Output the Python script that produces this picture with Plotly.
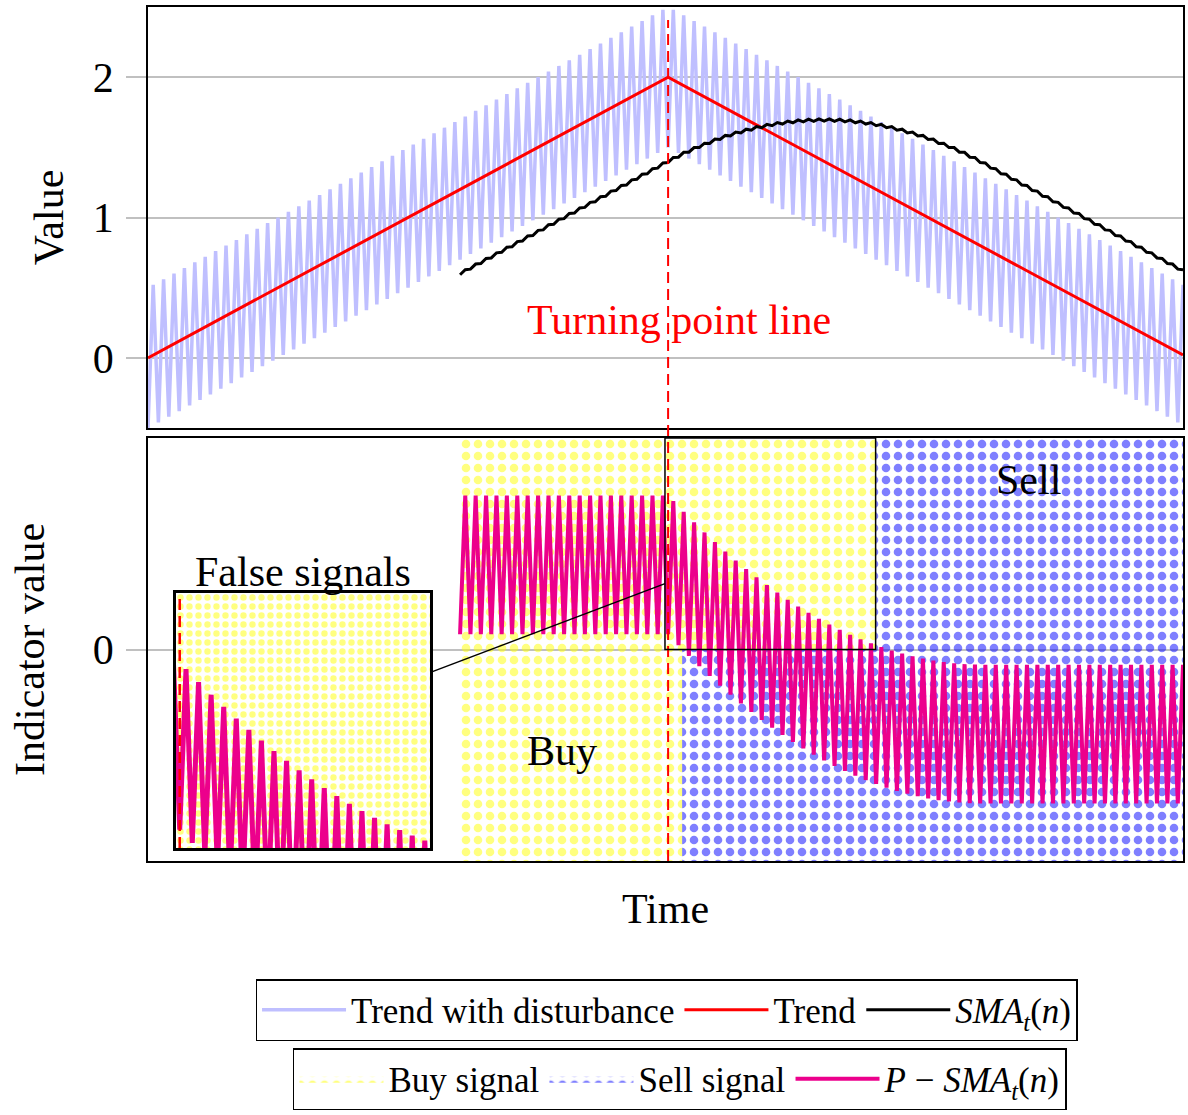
import plotly.graph_objects as go

# ---------------- data ----------------
time_index = list(range(200))

# trend with disturbance (alternating +-0.5 around the triangular trend)
price = [
    -0.50, 0.52, -0.46, 0.56, -0.42, 0.60, -0.38, 0.64, -0.34, 0.68,
    -0.30, 0.72, -0.26, 0.76, -0.22, 0.80, -0.18, 0.84, -0.14, 0.88,
    -0.10, 0.92, -0.06, 0.96, -0.02, 1.00, 0.02, 1.04, 0.06, 1.08,
    0.10, 1.12, 0.14, 1.16, 0.18, 1.20, 0.22, 1.24, 0.26, 1.28,
    0.30, 1.32, 0.34, 1.36, 0.38, 1.40, 0.42, 1.44, 0.46, 1.48,
    0.50, 1.52, 0.54, 1.56, 0.58, 1.60, 0.62, 1.64, 0.66, 1.68,
    0.70, 1.72, 0.74, 1.76, 0.78, 1.80, 0.82, 1.84, 0.86, 1.88,
    0.90, 1.92, 0.94, 1.96, 0.98, 2.00, 1.02, 2.04, 1.06, 2.08,
    1.10, 2.12, 1.14, 2.16, 1.18, 2.20, 1.22, 2.24, 1.26, 2.28,
    1.30, 2.32, 1.34, 2.36, 1.38, 2.40, 1.42, 2.44, 1.46, 2.48,
    1.50, 2.48, 1.46, 2.44, 1.42, 2.40, 1.38, 2.36, 1.34, 2.32,
    1.30, 2.28, 1.26, 2.24, 1.22, 2.20, 1.18, 2.16, 1.14, 2.12,
    1.10, 2.08, 1.06, 2.04, 1.02, 2.00, 0.98, 1.96, 0.94, 1.92,
    0.90, 1.88, 0.86, 1.84, 0.82, 1.80, 0.78, 1.76, 0.74, 1.72,
    0.70, 1.68, 0.66, 1.64, 0.62, 1.60, 0.58, 1.56, 0.54, 1.52,
    0.50, 1.48, 0.46, 1.44, 0.42, 1.40, 0.38, 1.36, 0.34, 1.32,
    0.30, 1.28, 0.26, 1.24, 0.22, 1.20, 0.18, 1.16, 0.14, 1.12,
    0.10, 1.08, 0.06, 1.04, 0.02, 1.00, -0.02, 0.96, -0.06, 0.92,
    -0.10, 0.88, -0.14, 0.84, -0.18, 0.80, -0.22, 0.76, -0.26, 0.72,
    -0.30, 0.68, -0.34, 0.64, -0.38, 0.60, -0.42, 0.56, -0.46, 0.52,
]

# trend (straight segments between these vertices)
trend_t = [0, 100, 199]
trend_v = [0.0, 2.0, 0.02]

sma_n = 61                 # moving average window
turning_point = 100        # time of the turning point

# signal regions (time bounds)
buy_start = 60
buy_full_end = 102.7       # buy region spans whole indicator range until here
buy_upper_end = 140        # buy region (positive half) until here
series_end = 199

# zoomed box ("False signals")
zoom_t = [99.4, 139.9]
zoom_v = [0.0, 1.5]

value_range = [-0.5, 2.5]
value_ticks = [0, 1, 2]
ind_range = [-1.5, 1.5]
ind_ticks = [0]

# derived series: SMA_t(n) and P - SMA_t(n)
sma_t, sma_v = [], []
for i in range(sma_n - 1, len(price)):
    sma_t.append(time_index[i])
    sma_v.append(sum(price[i - sma_n + 1:i + 1]) / sma_n)
ind_v = [price[t] - s for t, s in zip(sma_t, sma_v)]

# ---------------- styling ----------------
FONT = "Liberation Serif"
LAV = "#bfbfff"
RED = "#ff0000"
MAG = "#ec008c"
GRID = "#c0c0c0"
CLEAR = "rgba(0,0,0,0)"

W, H = 1188, 1115
ML, MR, MT, MB = 148, 3, 7, 254
PW, PH = W - ML - MR, H - MT - MB


def py(px):  # pixel row -> paper y
    return (H - MB - px) / PH


def pxx(px):  # pixel col -> paper x
    return (px - ML) / PW


top_dom = [py(428), 1.0]
bot_dom = [0.0, py(438)]
inset_x = [pxx(176), pxx(431)]
inset_y = [py(848), py(593)]

fig = go.Figure()

# top panel
fig.add_trace(go.Scatter(x=time_index, y=price, mode="lines", name="Trend with disturbance",
                         line=dict(color=LAV, width=3.5), xaxis="x", yaxis="y", legend="legend"))
fig.add_trace(go.Scatter(x=trend_t, y=trend_v, mode="lines", name="Trend",
                         line=dict(color=RED, width=3), xaxis="x", yaxis="y", legend="legend"))
fig.add_trace(go.Scatter(x=sma_t, y=sma_v, mode="lines", name="<i>SMA<sub>t</sub></i>(<i>n</i>)",
                         line=dict(color="black", width=3), xaxis="x", yaxis="y", legend="legend"))

# signal regions (lower panel)
lo, hi = ind_range
buy_x = [buy_start, buy_full_end, buy_full_end, buy_upper_end, buy_upper_end, buy_start, buy_start]
buy_y = [lo, lo, 0, 0, hi, hi, lo]
sell_x = [buy_full_end, series_end, series_end, buy_upper_end, buy_upper_end, buy_full_end, buy_full_end]
sell_y = [lo, lo, hi, hi, 0, 0, lo]

yellow_pat = dict(shape=".", fgcolor="#ffff00", size=12, solidity=0.4)
blue_pat = dict(shape=".", fgcolor="#0000ff", size=12, solidity=0.4)

fig.add_trace(go.Scatter(x=buy_x, y=buy_y, mode="lines", fill="toself", name="Buy signal",
                         line=dict(width=0, color="#ffff00"), fillcolor=CLEAR,
                         fillpattern=yellow_pat, xaxis="x2", yaxis="y2", legend="legend2"))
fig.add_trace(go.Scatter(x=sell_x, y=sell_y, mode="lines", fill="toself", name="Sell signal",
                         line=dict(width=0, color="#0000ff"), fillcolor=CLEAR,
                         fillpattern=blue_pat, xaxis="x2", yaxis="y2", legend="legend2"))
fig.add_trace(go.Scatter(x=sma_t, y=ind_v, mode="lines", name="<i>P</i> − <i>SMA<sub>t</sub></i>(<i>n</i>)",
                         line=dict(color=MAG, width=4), xaxis="x2", yaxis="y2", legend="legend2"))

# inset (magnified zoom box)
fig.add_trace(go.Scatter(x=buy_x, y=buy_y, mode="lines", fill="toself", showlegend=False,
                         line=dict(width=0), fillcolor="white",
                         fillpattern=dict(shape=".", fgcolor="#ffff00", bgcolor="white", size=9, solidity=0.4),
                         xaxis="x3", yaxis="y3"))
fig.add_trace(go.Scatter(x=sma_t, y=ind_v, mode="lines", showlegend=False,
                         line=dict(color=MAG, width=5), xaxis="x3", yaxis="y3"))

axis_common = dict(showline=True, linecolor="black", linewidth=1.5, mirror=True, zeroline=False,
                   tickfont=dict(family=FONT, size=42, color="black"))

fig.update_layout(
    width=W, height=H,
    margin=dict(l=ML, r=MR, t=MT, b=MB),
    paper_bgcolor="white", plot_bgcolor="white",
    font=dict(family=FONT, size=42, color="black"),
    xaxis=dict(domain=[0, 1], range=[0, series_end], anchor="y", showticklabels=False,
               showgrid=False, ticks="", **axis_common),
    yaxis=dict(domain=top_dom, range=value_range, anchor="x", tickvals=value_ticks,
               showgrid=True, gridcolor=GRID, gridwidth=1.5, ticks="outside", ticklen=20,
               tickcolor=GRID, tickwidth=1.5, ticklabelstandoff=4,
               title=dict(text="Value", font=dict(family=FONT, size=42), standoff=16), **axis_common),
    xaxis2=dict(domain=[0, 1], range=[0, series_end], anchor="y2", showticklabels=False,
                showgrid=False, ticks="",
                title=dict(text="Time", font=dict(family=FONT, size=42), standoff=32), **axis_common),
    yaxis2=dict(domain=bot_dom, range=ind_range, anchor="x2", tickvals=ind_ticks,
                showgrid=True, gridcolor=GRID, gridwidth=1.5, ticks="outside", ticklen=20,
                tickcolor=GRID, tickwidth=1.5, ticklabelstandoff=4,
                title=dict(text="Indicator value", font=dict(family=FONT, size=42), standoff=35),
                **axis_common),
    xaxis3=dict(domain=inset_x, range=zoom_t, anchor="y3", showticklabels=False, showgrid=False,
                ticks="", zeroline=False, showline=True, linecolor="black", linewidth=3, mirror=True),
    yaxis3=dict(domain=inset_y, range=zoom_v, anchor="x3", showticklabels=False, showgrid=False,
                ticks="", zeroline=False, showline=True, linecolor="black", linewidth=3, mirror=True),
    legend=dict(orientation="h", x=0.501, xanchor="center", y=py(979), yanchor="top",
                bordercolor="black", borderwidth=1.5, bgcolor="white", itemwidth=84,
                font=dict(family=FONT, size=35, color="black")),
    legend2=dict(orientation="h", x=pxx(681), xanchor="center", y=py(1048), yanchor="top",
                 bordercolor="black", borderwidth=1.5, bgcolor="white", itemwidth=84,
                 font=dict(family=FONT, size=35, color="black")),
)

# turning point line (spans both panels)
fig.add_shape(type="line", xref="x", yref="paper", x0=turning_point, x1=turning_point,
              y0=0, y1=py(20), line=dict(color=RED, width=2, dash="11px,6px"))
# zoom box outline in lower panel
fig.add_shape(type="rect", xref="x2", yref="y2", x0=zoom_t[0], x1=zoom_t[1], y0=zoom_v[0], y1=zoom_v[1],
              line=dict(color="black", width=1.5))
# turning point in inset
fig.add_shape(type="line", xref="x3", yref="y3", x0=turning_point, x1=turning_point,
              y0=zoom_v[0], y1=zoom_v[1], line=dict(color=RED, width=2.5, dash="11px,6px"))

# connector line between inset and zoom box (centre to centre, clipped at borders)
def to_paper_x(t):
    return t / series_end


def to_paper_y2(v):
    return bot_dom[0] + (v - ind_range[0]) / (ind_range[1] - ind_range[0]) * (bot_dom[1] - bot_dom[0])


bx0, bx1 = to_paper_x(zoom_t[0]), to_paper_x(zoom_t[1])
by0, by1 = to_paper_y2(zoom_v[0]), to_paper_y2(zoom_v[1])
c1 = ((inset_x[0] + inset_x[1]) / 2, (inset_y[0] + inset_y[1]) / 2)
c2 = ((bx0 + bx1) / 2, (by0 + by1) / 2)
dx, dy = c2[0] - c1[0], c2[1] - c1[1]
s1 = min((inset_x[1] - inset_x[0]) / 2 / abs(dx), (inset_y[1] - inset_y[0]) / 2 / abs(dy))
s2 = 1 - min((bx1 - bx0) / 2 / abs(dx), (by1 - by0) / 2 / abs(dy))
fig.add_shape(type="line", xref="paper", yref="paper",
              x0=c1[0] + s1 * dx, y0=c1[1] + s1 * dy, x1=c1[0] + s2 * dx, y1=c1[1] + s2 * dy,
              line=dict(color="black", width=1.5))

# text labels
fig.add_annotation(text="Turning point line", xref="x", yref="y", x=102.1, y=0.27, showarrow=False,
                   xanchor="center", font=dict(family=FONT, size=42, color=RED))
fig.add_annotation(text="Buy", xref="x2", yref="y2", x=79.6, y=-0.72, showarrow=False,
                   xanchor="center", font=dict(family=FONT, size=42, color="black"))
fig.add_annotation(text="Sell", xref="x2", yref="y2", x=169.3, y=1.2, showarrow=False,
                   xanchor="center", font=dict(family=FONT, size=42, color="black"))
fig.add_annotation(text="False signals", xref="paper", yref="paper",
                   x=(inset_x[0] + inset_x[1]) / 2, xanchor="center", y=inset_y[1], yanchor="bottom",
                   yshift=-4, showarrow=False, font=dict(family=FONT, size=42, color="black"))

fig.write_html("out.html")
